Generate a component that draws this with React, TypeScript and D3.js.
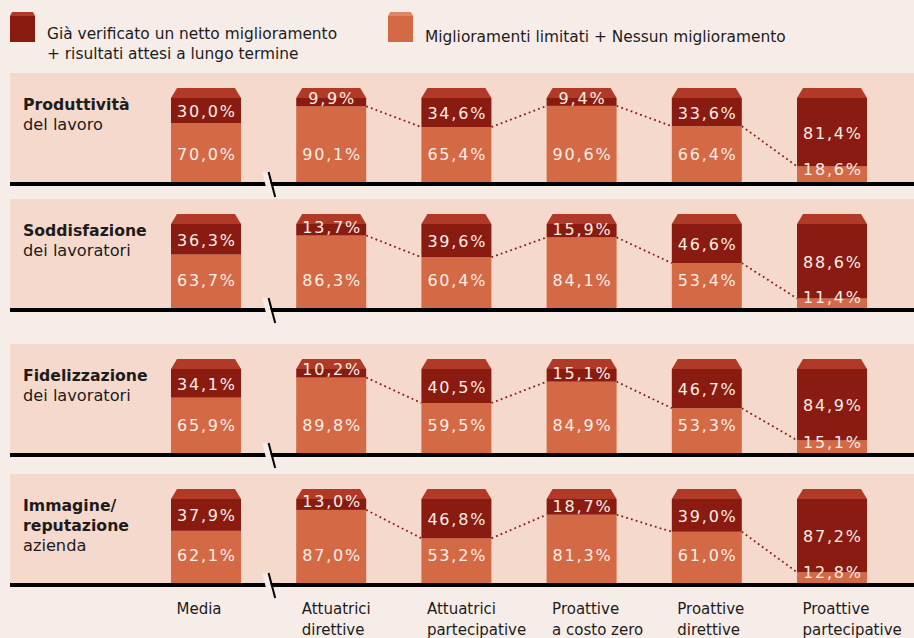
import React from "react";
import * as d3 from "d3";

const categories = [
  "Media",
  "Attuatrici direttive",
  "Attuatrici partecipative",
  "Proattive a costo zero",
  "Proattive direttive",
  "Proattive partecipative",
];

const metricBold = [["Produttività"], ["Soddisfazione"], ["Fidelizzazione"], ["Immagine/", "reputazione"]];
const metricSub = ["del lavoro", "dei lavoratori", "dei lavoratori", "azienda"];

const darkProduttivita = [30.0, 9.9, 34.6, 9.4, 33.6, 81.4];
const lightProduttivita = [70.0, 90.1, 65.4, 90.6, 66.4, 18.6];
const darkSoddisfazione = [36.3, 13.7, 39.6, 15.9, 46.6, 88.6];
const lightSoddisfazione = [63.7, 86.3, 60.4, 84.1, 53.4, 11.4];
const darkFidelizzazione = [34.1, 10.2, 40.5, 15.1, 46.7, 84.9];
const lightFidelizzazione = [65.9, 89.8, 59.5, 84.9, 53.3, 15.1];
const darkImmagine = [37.9, 13.0, 46.8, 18.7, 39.0, 87.2];
const lightImmagine = [62.1, 87.0, 53.2, 81.3, 61.0, 12.8];

const legendLabels = [
  ["Già verificato un netto miglioramento", "+ risultati attesi a lungo termine"],
  ["Miglioramenti limitati + Nessun miglioramento"],
];

const darkSeries = [darkProduttivita, darkSoddisfazione, darkFidelizzazione, darkImmagine];
const lightSeries = [lightProduttivita, lightSoddisfazione, lightFidelizzazione, lightImmagine];

const W = 914;
const H = 638;
const panelTops = [73, 199, 344, 474];
const PANEL_H = 109;
const BODY_H = 84;
const CAP_H = 10;
const CAP_IN = 6;

const C = {
  page: "#f7ede8",
  panel: "#f6d9cd",
  dark: "#8a1b11",
  light: "#d46945",
  cap: "#b03a27",
  capLight: "#e2856a",
  label: "#fbeee6",
  text: "#1c1c1c",
};

const FONT = "'DejaVu Sans', sans-serif";

const fmt = (v: number) => v.toFixed(1).replace(".", ",") + "%";

export default function App() {
  const x = d3.scaleBand<string>().domain(categories).range([171, 867]).paddingInner(0.441).paddingOuter(0);
  const bw = x.bandwidth();

  return (
    <svg width={W} height={H} style={{ position: "absolute", left: 0, top: 0 }} fontFamily={FONT}>
      <rect x={0} y={0} width={W} height={H} fill={C.page} />

      {/* Legend */}
      <g>
        <rect x={10} y={16} width={25} height={26} fill={C.dark} />
        <polygon points={`10,16 12,12 33,12 35,16`} fill={C.cap} />
        {legendLabels[0].map((t, i) => (
          <text key={i} x={47} y={38.5 + i * 20} fontSize={15.4} fill={C.text}>
            {t}
          </text>
        ))}
        <rect x={388} y={16} width={25} height={26} fill={C.light} />
        <polygon points={`388,16 390,12 411,12 413,16`} fill={C.capLight} />
        <text x={425} y={42} fontSize={15.4} fill={C.text}>
          {legendLabels[1][0]}
        </text>
      </g>

      {panelTops.map((top, p) => {
        const lineTop = top + PANEL_H;
        const y = d3.scaleLinear().domain([0, 100]).range([lineTop, lineTop - BODY_H]);
        const dark = darkSeries[p];
        const light = lightSeries[p];
        const bodyTop = y(100);
        const boundaries = dark.map((d) => y(100 - d));
        const dotted = d3
          .range(1, categories.length - 1)
          .map((i) => [
            [x(categories[i])! + bw, boundaries[i]],
            [x(categories[i + 1])!, boundaries[i + 1]],
          ] as [number, number][]);
        const line = d3.line();
        const breakX = (x(categories[0])! + bw + x(categories[1])!) / 2;
        const slope = 0.264;
        return (
          <g key={p}>
            <rect x={10} y={top} width={W - 10} height={PANEL_H} fill={C.panel} />
            {metricBold[p].map((t, i) => (
              <text key={i} x={23} y={top + 37 + i * 20} fontSize={15.7} fontWeight="bold" fill={C.text}>
                {t}
              </text>
            ))}
            <text x={23} y={top + 37 + metricBold[p].length * 20} fontSize={16.2} fill={C.text}>
              {metricSub[p]}
            </text>

            {dotted.map((pts, i) => (
              <path
                key={i}
                d={line(pts) || ""}
                stroke={C.dark}
                strokeWidth={1.8}
                strokeDasharray="1.8 3.2"
                fill="none"
              />
            ))}

            {categories.map((c, i) => {
              const x0 = x(c)!;
              const b = boundaries[i];
              const hDark = b - bodyTop;
              let darkBase = bodyTop + hDark / 2 + 6.5;
              if (hDark < 20) darkBase -= (20 - hDark) * 0.4;
              const lightBase = Math.max(lineTop - 22, Math.min(b + 9, lineTop - 5));
              return (
                <g key={c}>
                  <rect x={x0} y={b} width={bw} height={lineTop - b} fill={C.light} />
                  <rect x={x0} y={bodyTop} width={bw} height={hDark} fill={C.dark} />
                  <polygon
                    points={`${x0},${bodyTop} ${x0 + CAP_IN},${bodyTop - CAP_H} ${x0 + bw - CAP_IN},${bodyTop - CAP_H} ${x0 + bw},${bodyTop}`}
                    fill={C.cap}
                  />
                  <text
                    x={x0 + bw / 2 + 0.9}
                    y={darkBase}
                    textAnchor="middle"
                    fontSize={16}
                    letterSpacing={1.8}
                    fill={C.label}
                  >
                    {fmt(dark[i])}
                  </text>
                  <text
                    x={x0 + bw / 2 + 0.9}
                    y={lightBase}
                    textAnchor="middle"
                    fontSize={16}
                    letterSpacing={1.8}
                    fill={C.label}
                  >
                    {fmt(light[i])}
                  </text>
                </g>
              );
            })}

            <rect x={10} y={lineTop} width={W - 10} height={4} fill="#000" />
            <polygon
              points={`${breakX - 6.5},${lineTop - 10} ${breakX - 1},${lineTop - 10} ${breakX - 1 + slope * 14},${lineTop + 4} ${breakX - 6.5 + slope * 14},${lineTop + 4}`}
              fill={C.page}
            />
            <line
              x1={breakX}
              y1={lineTop - 10}
              x2={breakX + slope * 25}
              y2={lineTop + 15}
              stroke="#000"
              strokeWidth={2}
            />
          </g>
        );
      })}

      {categories.map((c) => {
        const idx = c.indexOf(" ");
        const lines = idx < 0 ? [c] : [c.slice(0, idx), c.slice(idx + 1)];
        return (
          <text key={c} x={x(c)! + 5.5} y={614} fontSize={15} fill={C.text}>
            {lines.map((l, i) => (
              <tspan key={i} x={x(c)! + 5.5} y={614 + i * 21}>
                {l}
              </tspan>
            ))}
          </text>
        );
      })}
    </svg>
  );
}
